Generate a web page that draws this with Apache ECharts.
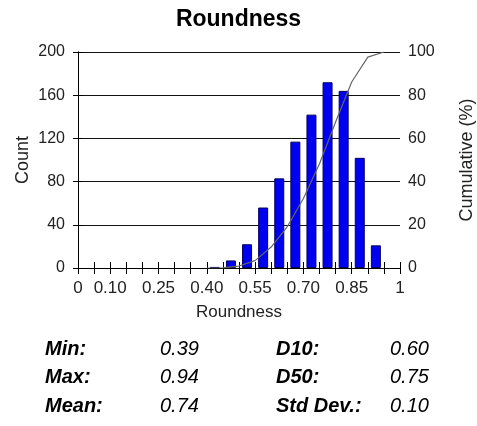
<!DOCTYPE html>
<html>
<head>
<meta charset="utf-8">
<script src="https://cdn.jsdelivr.net/npm/echarts@6/dist/echarts.min.js"></script>
<style>
html,body{margin:0;padding:0;background:#fff;}
#chart{width:477px;height:426px;}
</style>
</head>
<body>
<div id="chart"></div>
<script>
// Bin centres (bins 0.05 wide) and counts
const binCenters = [0.425, 0.475, 0.525, 0.575, 0.625, 0.675, 0.725, 0.775, 0.825, 0.875, 0.925];
const counts     = [1, 7, 22, 56, 83, 117, 142, 172, 164, 102, 21];
// Cumulative percent at bin right edges
const cumEdges   = [0.40, 0.45, 0.50, 0.55, 0.60, 0.65, 0.70, 0.75, 0.80, 0.85, 0.90, 0.95];
const cumPercent = [0, 0.1, 0.9, 3.4, 9.7, 19.1, 32.2, 48.3, 67.6, 86.1, 97.6, 100];
// X tick labels shown
const xLabelValues = [0, 0.10, 0.25, 0.40, 0.55, 0.70, 0.85, 1];
const xLabelTexts  = ['0', '0.10', '0.25', '0.40', '0.55', '0.70', '0.85', '1'];
// Statistics
const statLabelsLeft  = ['Min:', 'Max:', 'Mean:'];
const statValuesLeft  = ['0.39', '0.94', '0.74'];
const statLabelsRight = ['D10:', 'D50:', 'Std Dev.:'];
const statValuesRight = ['0.60', '0.75', '0.10'];

const FONT = 'Liberation Sans, Arial, sans-serif';
const chart = echarts.init(document.getElementById('chart'), null, {renderer: 'canvas'});

function xFmt(v) {
  const k = Math.round(v * 100);
  for (let i = 0; i < xLabelValues.length; i++) {
    if (Math.round(xLabelValues[i] * 100) === k) return xLabelTexts[i];
  }
  return '';
}

const rowY = [349, 377, 406];
const SF = 20;
const graphics = [];
for (let i = 0; i < 3; i++) {
  graphics.push({type: 'text', left: 45, top: rowY[i] - SF / 2, style: {text: statLabelsLeft[i], font: 'italic bold ' + SF + 'px ' + FONT, fill: '#000'}});
  graphics.push({type: 'text', left: 160, top: rowY[i] - SF / 2, style: {text: statValuesLeft[i], font: 'italic ' + SF + 'px ' + FONT, fill: '#000'}});
  graphics.push({type: 'text', left: 276, top: rowY[i] - SF / 2, style: {text: statLabelsRight[i], font: 'italic bold ' + SF + 'px ' + FONT, fill: '#000'}});
  graphics.push({type: 'text', left: 390, top: rowY[i] - SF / 2, style: {text: statValuesRight[i], font: 'italic ' + SF + 'px ' + FONT, fill: '#000'}});
}

const option = {
  animation: false,
  backgroundColor: '#fff',
  textStyle: {fontFamily: FONT},
  title: {
    text: 'Roundness', left: 'center', top: 3,
    textStyle: {fontFamily: FONT, fontSize: 23, fontWeight: 'bold', color: '#000'}
  },
  grid: {left: 78, right: 77, top: 52, bottom: 158, containLabel: false, outerBoundsMode: 'none'},
  xAxis: [{
    type: 'value', min: 0, max: 1, interval: 0.05,
    name: 'Roundness', nameLocation: 'middle', nameGap: 36,
    nameTextStyle: {fontFamily: FONT, fontSize: 17, color: '#222'},
    axisLine: {show: true, lineStyle: {color: '#000', width: 1}},
    axisTick: {show: true, length: 6, lineStyle: {color: '#000'}},
    axisLabel: {formatter: xFmt, fontFamily: FONT, fontSize: 17, color: '#222', margin: 12, showMaxLabel: true, showMinLabel: true},
    splitLine: {show: false}
  }, {
    type: 'value', min: 0, max: 1, interval: 0.05, position: 'bottom',
    axisLine: {show: false},
    axisTick: {show: true, inside: true, length: 6, lineStyle: {color: '#000'}},
    axisLabel: {show: false},
    splitLine: {show: false}
  }],
  yAxis: [{
    type: 'value', min: 0, max: 200, interval: 40,
    name: 'Count', nameLocation: 'middle', nameGap: 46, nameRotate: 90, nameMoveOverlap: false,
    nameTextStyle: {fontFamily: FONT, fontSize: 18, color: '#222'},
    axisLine: {show: true, lineStyle: {color: '#000'}},
    axisTick: {show: true, length: 5, lineStyle: {color: '#000'}},
    axisLabel: {fontFamily: FONT, fontSize: 16, color: '#222', margin: 13},
    splitLine: {show: true, lineStyle: {color: '#111', width: 1}}
  }, {
    type: 'value', min: 0, max: 100, interval: 20, position: 'right',
    name: 'Cumulative (%)', nameLocation: 'middle', nameGap: 58, nameRotate: 90,
    nameTextStyle: {fontFamily: FONT, fontSize: 18, color: '#222'},
    axisLine: {show: true, lineStyle: {color: '#000'}},
    axisTick: {show: true, length: 5, lineStyle: {color: '#000'}},
    axisLabel: {fontFamily: FONT, fontSize: 16, color: '#222', margin: 8},
    splitLine: {show: false}
  }],
  series: [{
    type: 'bar', xAxisIndex: 0, yAxisIndex: 0,
    barWidth: 10,
    itemStyle: {color: '#0000F0', borderColor: '#000060', borderWidth: 1},
    data: binCenters.map((c, i) => [c, counts[i]])
  }, {
    type: 'line', xAxisIndex: 0, yAxisIndex: 1,
    showSymbol: false, symbol: 'none',
    lineStyle: {color: '#666', width: 1.2},
    data: cumEdges.map((e, i) => [e, cumPercent[i]])
  }],
  graphic: graphics
};
chart.setOption(option);
</script>
</body>
</html>
